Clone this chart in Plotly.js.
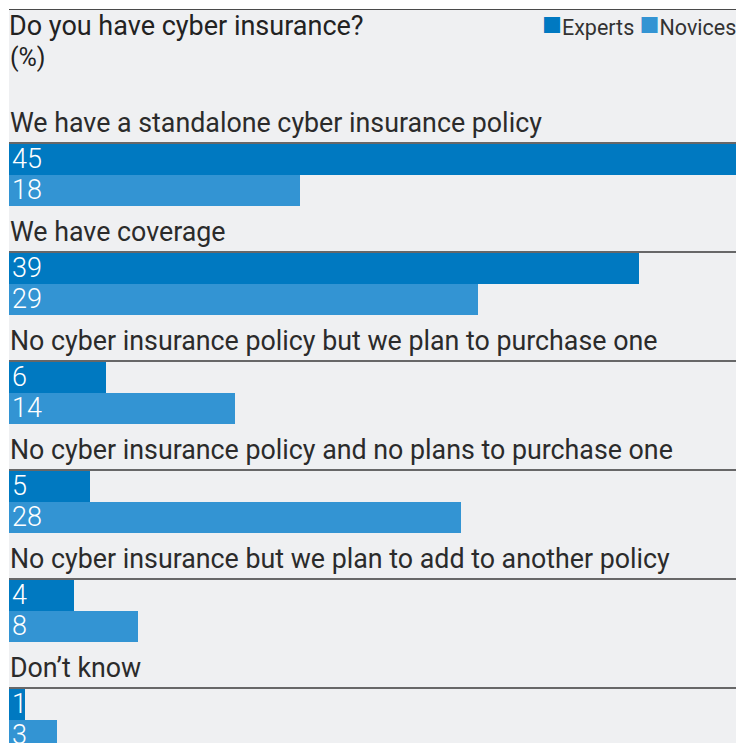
<!DOCTYPE html>
<html><head><meta charset="utf-8">
<script src="https://cdn.plot.ly/plotly-3.0.1.min.js"></script>
<style>html,body{margin:0;padding:0;background:#fff;}#chart{width:736px;height:743px;}</style>
</head><body><div id="chart"></div>
<script>
const categories = [
  "We have a standalone cyber insurance policy",
  "We have coverage",
  "No cyber insurance policy but we plan to purchase one",
  "No cyber insurance policy and no plans to purchase one",
  "No cyber insurance but we plan to add to another policy",
  "Don\u2019t know"
];
const experts = [45, 39, 6, 5, 4, 1];
const novices = [18, 29, 14, 28, 8, 3];
const seriesNames = ["Experts", "Novices"];
const colors = ["#0079c1", "#3394d3"];

const FONT = "Roboto, 'Liberation Sans', sans-serif";
const GROUP = 109, LINE0 = 134, BAR_H = 31, LABEL_OFF = -20;
const lineY = categories.map((c, i) => LINE0 + GROUP * i);
const expY = lineY.map(y => y + 1 + BAR_H / 2);
const novY = lineY.map(y => y + 1 + BAR_H * 1.5);

const valFont = {family: FONT, size: 27, color: '#ffffff', weight: 300};
const traces = [
  {type: 'bar', orientation: 'h', name: seriesNames[0], x: experts, y: expY, width: BAR_H,
   marker: {color: colors[0], line: {width: 0}}, hoverinfo: 'x', showlegend: false},
  {type: 'bar', orientation: 'h', name: seriesNames[1], x: novices, y: novY, width: BAR_H,
   marker: {color: colors[1], line: {width: 0}}, hoverinfo: 'x', showlegend: false}
];

const annotations = categories.map((c, i) => ({
  text: c, x: 0, xref: 'paper', xanchor: 'left', y: lineY[i] + LABEL_OFF, yref: 'y', yanchor: 'middle',
  showarrow: false, xshift: -1, font: {family: FONT, size: 26.8, color: '#2b2b2b'}
}));
experts.forEach((v, i) => annotations.push({
  text: String(v), x: 0, xref: 'x', xanchor: 'left', y: expY[i], yref: 'y', yanchor: 'middle',
  showarrow: false, xshift: 1, yshift: 1, font: valFont
}));
novices.forEach((v, i) => annotations.push({
  text: String(v), x: 0, xref: 'x', xanchor: 'left', y: novY[i], yref: 'y', yanchor: 'middle',
  showarrow: false, xshift: 1, yshift: 1, font: valFont
}));
// units subtitle
annotations.push({
  text: '(%)', x: 0, xref: 'paper', xanchor: 'left', y: 48, yref: 'y', yanchor: 'middle',
  showarrow: false, xshift: -1, font: {family: FONT, size: 25, color: '#222222'}
});
// legend
annotations.push({
  text: '<span style="color:' + colors[0] + ';font-size:33px">\u25A0</span>' + seriesNames[0] +
        ' <span style="color:' + colors[1] + ';font-size:33px">\u25A0</span>' + seriesNames[1],
  x: 1, xref: 'paper', xanchor: 'right', y: 14, yref: 'y', yanchor: 'middle',
  showarrow: false, xshift: 2, font: {family: FONT, size: 21.5, color: '#333333'}
});

const shapes = lineY.map(y => ({
  type: 'line', xref: 'paper', x0: 0, x1: 1, yref: 'y', y0: y, y1: y,
  line: {color: '#3a3a3a', width: 1.5}
}));
shapes.push({type: 'line', xref: 'paper', x0: 0, x1: 1, yref: 'y', y0: 0, y1: 0,
  line: {color: '#4a4a4a', width: 2}});

const layout = {
  width: 736, height: 743,
  margin: {l: 9, r: 0, t: 9, b: 0, pad: 0},
  paper_bgcolor: '#ffffff', plot_bgcolor: '#eff0f2',
  barmode: 'overlay', bargap: 0,
  title: {text: 'Do you have cyber insurance?', x: 9 / 736, xanchor: 'left', xref: 'container',
          y: 1 - 26 / 743, yanchor: 'middle', yref: 'container',
          font: {family: FONT, size: 27, color: '#222222'}},
  xaxis: {range: [0, 45], visible: false, fixedrange: true},
  yaxis: {range: [734, 0], visible: false, fixedrange: true},
  annotations: annotations, shapes: shapes, showlegend: false,
  font: {family: FONT}
};
Plotly.newPlot('chart', traces, layout, {displayModeBar: false, staticPlot: true});
</script></body></html>
